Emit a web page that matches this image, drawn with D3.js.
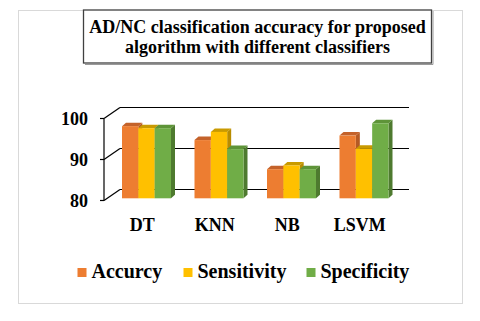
<!DOCTYPE html>
<html><head><meta charset="utf-8">
<script src="https://cdn.jsdelivr.net/npm/d3@7"></script>
<style>body{margin:0;background:#fff}svg{display:block}</style>
</head><body>
<svg id="c" width="480" height="321"></svg>
<script>
const categories = ["DT", "KNN", "NB", "LSVM"];
const seriesNames = ["Accurcy", "Sensitivity", "Specificity"];
const accuracy    = [97.6, 94.2, 87.1, 95.3];
const sensitivity = [97.1, 96.2, 88.0, 92.1];
const specificity = [97.1, 92.0, 87.1, 98.3];
const yTicks = [80, 90, 100];
const titleLines = ["AD/NC classification accuracy for proposed", "algorithm with different classifiers"];

const seriesValues = [accuracy, sensitivity, specificity];
const colors = ["#ED7D31", "#FFC000", "#70AD47"];
const topColors = ["#C4622A", "#C99A00", "#5E9438"];
const sideColors = ["#B55A24", "#B88C00", "#4E7A2F"];

const svg = d3.select("#c");
const font = "'Liberation Serif','Times New Roman',serif";

// outer border
svg.append("rect").attr("x",18.5).attr("y",10.5).attr("width",444).attr("height",293)
  .attr("fill","none").attr("stroke","#d9d9d9").attr("stroke-width",1);

// title box
svg.append("rect").attr("x",83.5).attr("y",10).attr("width",348).attr("height",53)
  .attr("fill","#fff").attr("stroke","#404040").attr("stroke-width",1.3);
svg.append("path").attr("d","M433,11V64.5H85").attr("fill","none").attr("stroke","#9a9a9a").attr("stroke-width",1);
svg.selectAll("text.title").data(titleLines).join("text")
  .attr("x",257.5).attr("y",(d,i)=>32.5+i*20).attr("text-anchor","middle")
  .attr("font-family",font).attr("font-weight","bold").attr("font-size",18).attr("fill","#000")
  .text(d=>d);

// scales
const DX = 16, DY = -11;
const yFront = d3.scaleLinear().domain([80,100]).range([200.5,118.5]);
const yBar = d3.scaleLinear().domain([80,100]).range([198.3,116.3]);
const x0 = d3.scaleBand().domain(categories).range([105.5,395.5]).padding(0);
const x1 = d3.scaleBand().domain(seriesNames).range([16.5,65.5]).padding(0);
const axisX = 104;

// back wall gridlines + diagonals
const g = svg.append("g").attr("stroke","#000").attr("stroke-width",1.2).attr("fill","none");
yTicks.forEach(t => {
  const yf = yFront(t);
  g.append("line").attr("x1",axisX+DX).attr("x2",409).attr("y1",yf+DY).attr("y2",yf+DY);
  g.append("line").attr("x1",axisX).attr("x2",axisX+DX).attr("y1",yf).attr("y2",yf+DY);
  g.append("line").attr("x1",axisX-4).attr("x2",axisX).attr("y1",yf).attr("y2",yf);
});
g.append("line").attr("x1",axisX).attr("x2",axisX).attr("y1",yFront(100)).attr("y2",yFront(80));

// tick labels
svg.selectAll("text.ytick").data(yTicks).join("text")
  .attr("x",88).attr("y",d=>yFront(d)+6).attr("text-anchor","end")
  .attr("font-family",font).attr("font-weight","bold").attr("font-size",18).text(d=>d);

// bars
const bdx = 4, bdy = -3.5;
const bw = x1.bandwidth();
categories.forEach((c,ci) => {
  seriesNames.forEach((s,si) => {
    const v = seriesValues[si][ci];
    const x = x0(c) + x1(s);
    const yt = yBar(v), yb = yBar(80);
    const bg = svg.append("g");
    // side
    bg.append("path").attr("d",`M${x+bw},${yb}L${x+bw+bdx},${yb+bdy}L${x+bw+bdx},${yt+bdy}L${x+bw},${yt}Z`)
      .attr("fill",sideColors[si]);
    // top
    bg.append("path").attr("d",`M${x},${yt}L${x+bdx},${yt+bdy}L${x+bw+bdx},${yt+bdy}L${x+bw},${yt}Z`)
      .attr("fill",topColors[si]);
    // front
    bg.append("rect").attr("x",x).attr("y",yt).attr("width",bw).attr("height",yb-yt).attr("fill",colors[si]);
  });
});

// category labels
svg.selectAll("text.cat").data(categories).join("text")
  .attr("x",d=>x0(d)+x0.bandwidth()/2+0.5).attr("y",230.5).attr("text-anchor","middle")
  .attr("font-family",font).attr("font-weight","bold").attr("font-size",18).text(d=>d);

// legend
const legX = [77.5, 183.5, 306.5];
seriesNames.forEach((s,i) => {
  svg.append("rect").attr("x",legX[i]).attr("y",268).attr("width",9).attr("height",9).attr("fill",colors[i]);
  svg.append("text").attr("x",legX[i]+14).attr("y",278).attr("font-family",font)
    .attr("font-weight","bold").attr("font-size",20).text(s);
});
</script>
</body></html>
